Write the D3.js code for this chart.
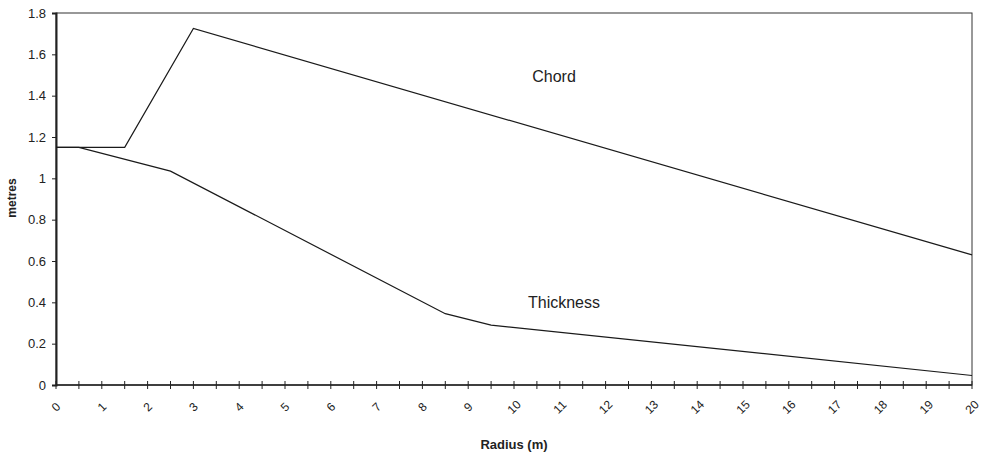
<!DOCTYPE html>
<html><head><meta charset="utf-8">
<script src="https://cdn.jsdelivr.net/npm/d3@7"></script>
<style>body{margin:0;background:#fff}svg{display:block;font-family:"Liberation Sans",Arial,sans-serif}</style>
</head><body>
<svg id="c" width="981" height="454"></svg>
<script>
const chordRadius = [0, 1.5, 3, 20];
const chordValues = [1.15, 1.15, 1.725, 0.63];
const thickRadius = [0, 0.5, 2.5, 8.5, 9.5, 20];
const thickValues = [1.15, 1.15, 1.035, 0.345, 0.29, 0.046];
const xTickLabels = d3.range(0, 21);
const yTickValues = [0, 0.2, 0.4, 0.6, 0.8, 1, 1.2, 1.4, 1.6, 1.8];

const svg = d3.select("#c");
const L = 56, R = 972, T = 13, B = 385;
const x = d3.scaleLinear().domain([0, 20]).range([L, R]);
const y = d3.scaleLinear().domain([0, 1.8]).range([B, T]);

// frame
svg.append("rect").attr("x", L).attr("y", T).attr("width", R - L).attr("height", B - T)
  .attr("fill", "none").attr("stroke", "#333").attr("stroke-width", 1);

// y axis
const ya = svg.append("g").attr("transform", `translate(${L},0)`)
  .call(d3.axisLeft(y).tickValues(yTickValues).tickSize(4).tickPadding(6).tickFormat(d => String(+d.toFixed(1))));
ya.select(".domain").attr("stroke", "#222").attr("stroke-width", 2);
ya.selectAll(".tick line").attr("stroke", "#222");
ya.selectAll("text").attr("font-size", 13).attr("fill", "#222").attr("font-family", "Liberation Sans, Arial, sans-serif");

// x axis
const xg = svg.append("g").attr("transform", `translate(0,${B})`);
xg.append("line").attr("x1", L).attr("x2", R).attr("stroke", "#222").attr("stroke-width", 1.5);
const halfTicks = d3.range(0, 20.01, 0.5);
xg.selectAll("line.t").data(halfTicks).join("line").attr("class", "t")
  .attr("x1", d => x(d)).attr("x2", d => x(d)).attr("y1", -4).attr("y2", 4).attr("stroke", "#222");
xg.selectAll("text").data(xTickLabels).join("text")
  .attr("transform", d => `translate(${x(d)},22) rotate(-45)`)
  .attr("text-anchor", "middle").attr("dy", "0.35em")
  .attr("font-size", 12).attr("fill", "#222").text(d => d);

// lines
const line = d3.line().x(d => x(d[0])).y(d => y(d[1]));
svg.append("path").datum(chordRadius.map((r, i) => [r, chordValues[i]]))
  .attr("d", line).attr("fill", "none").attr("stroke", "#1a1a1a").attr("stroke-width", 1.2);
svg.append("path").datum(thickRadius.map((r, i) => [r, thickValues[i]]))
  .attr("d", line).attr("fill", "none").attr("stroke", "#1a1a1a").attr("stroke-width", 1.2);

// labels
svg.append("text").attr("x", 554).attr("y", 82).attr("text-anchor", "middle")
  .attr("font-size", 16).attr("fill", "#222").text("Chord");
svg.append("text").attr("x", 564).attr("y", 308).attr("text-anchor", "middle")
  .attr("font-size", 16).attr("fill", "#222").text("Thickness");
svg.append("text").attr("transform", "translate(16,198) rotate(-90)").attr("text-anchor", "middle")
  .attr("font-size", 12).attr("font-weight", "bold").attr("fill", "#222").text("metres");
svg.append("text").attr("x", 514).attr("y", 449).attr("text-anchor", "middle")
  .attr("font-size", 13).attr("font-weight", "bold").attr("fill", "#222").text("Radius (m)");
</script>
</body></html>
